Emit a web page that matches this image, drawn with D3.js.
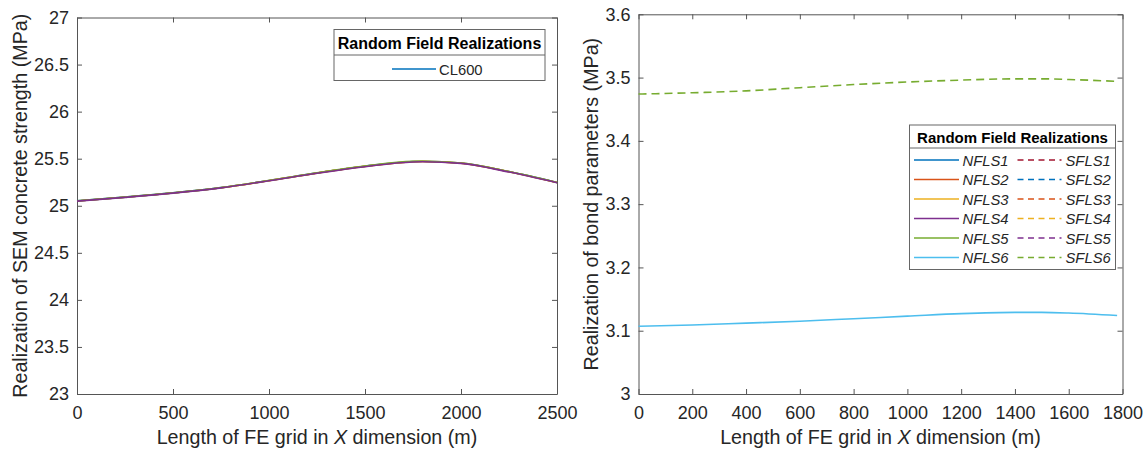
<!DOCTYPE html>
<html>
<head>
<meta charset="utf-8">
<script src="https://cdn.jsdelivr.net/npm/d3@7"></script>
<style>
  body { margin: 0; background: #fff; }
  svg { font-family: "Liberation Sans", Arial, sans-serif; }
  .tick text { fill: #262626; }
</style>
</head>
<body>
<svg id="chart" width="1148" height="450"></svg>
<script>
// Left panel data: SEM concrete strength realizations (CL600)
const leftX = [0, 250, 500, 750, 1000, 1250, 1500, 1750, 1800, 2000, 2250, 2500];
const leftSeries = [
  {color: "#0072BD", values: [25.052, 25.092, 25.137, 25.193, 25.268, 25.349, 25.420, 25.470, 25.472, 25.455, 25.363, 25.248]},
  {color: "#D95319", values: [25.050, 25.090, 25.135, 25.191, 25.266, 25.347, 25.418, 25.468, 25.470, 25.452, 25.361, 25.247]},
  {color: "#EDB120", values: [25.051, 25.091, 25.136, 25.192, 25.267, 25.348, 25.419, 25.469, 25.471, 25.453, 25.362, 25.246]},
  {color: "#77AC30", values: [25.052, 25.092, 25.137, 25.193, 25.268, 25.349, 25.421, 25.471, 25.472, 25.454, 25.363, 25.247]},
  {color: "#7E2F8E", values: [25.049, 25.089, 25.134, 25.190, 25.265, 25.345, 25.415, 25.465, 25.467, 25.450, 25.358, 25.245]}
];
const leftXTicks = [0, 500, 1000, 1500, 2000, 2500];
const leftYTicks = [23, 23.5, 24, 24.5, 25, 25.5, 26, 26.5, 27];
const leftLegend = ["CL600"];

// Right panel data: bond parameter realizations
const rightX = [0, 200, 400, 600, 800, 1000, 1200, 1400, 1500, 1600, 1780];
const nfls6 = [3.107, 3.109, 3.112, 3.115, 3.119, 3.123, 3.127, 3.129, 3.129, 3.128, 3.124];
const sfls6 = [3.474, 3.476, 3.479, 3.484, 3.489, 3.493, 3.496, 3.498, 3.498, 3.497, 3.494];
const rightXTicks = [0, 200, 400, 600, 800, 1000, 1200, 1400, 1600, 1800];
const rightYTicks = [3, 3.1, 3.2, 3.3, 3.4, 3.5, 3.6];
const nflsNames = ["NFLS1", "NFLS2", "NFLS3", "NFLS4", "NFLS5", "NFLS6"];
const sflsNames = ["SFLS1", "SFLS2", "SFLS3", "SFLS4", "SFLS5", "SFLS6"];
const nflsColors = ["#0072BD", "#D95319", "#EDB120", "#7E2F8E", "#77AC30", "#4DBEEE"];
const sflsColors = ["#A2142F", "#0072BD", "#D95319", "#EDB120", "#7E2F8E", "#77AC30"];

const svg = d3.select("#chart");
const axisColor = "#555";

// draw one boxed MATLAB-style axes with ticks on all sides
function drawAxes(box, x, y, xTicks, yTicks, xLabel, yLabel, yLabelOffset) {
  const g = svg.append("g");
  g.append("g")
    .attr("transform", `translate(0,${box.bottom})`)
    .call(d3.axisBottom(x).tickValues(xTicks).tickSizeInner(-5).tickSizeOuter(0).tickPadding(12).tickFormat(d3.format("d")));
  g.append("g")
    .attr("transform", `translate(0,${box.top})`)
    .call(d3.axisTop(x).tickValues(xTicks).tickSizeInner(-5).tickSizeOuter(0).tickFormat(""));
  g.append("g")
    .attr("transform", `translate(${box.left},0)`)
    .call(d3.axisLeft(y).tickValues(yTicks).tickSizeInner(-5).tickSizeOuter(0).tickPadding(8).tickFormat(d3.format("~g")));
  g.append("g")
    .attr("transform", `translate(${box.right},0)`)
    .call(d3.axisRight(y).tickValues(yTicks).tickSizeInner(-5).tickSizeOuter(0).tickFormat(""));
  g.selectAll(".domain").attr("stroke", axisColor);
  g.selectAll(".tick line").attr("stroke", axisColor);
  g.selectAll(".tick text").style("font-size", "18px");

  // x label with italic X
  const xl = g.append("text")
    .attr("x", (box.left + box.right) / 2)
    .attr("y", box.bottom + 50)
    .attr("text-anchor", "middle")
    .style("font-size", "19.7px")
    .attr("fill", "#262626");
  xl.append("tspan").text(xLabel[0]);
  xl.append("tspan").style("font-style", "italic").text("X");
  xl.append("tspan").text(xLabel[1]);

  g.append("text")
    .attr("transform", `translate(${box.left - yLabelOffset},${(box.top + box.bottom) / 2}) rotate(-90)`)
    .attr("text-anchor", "middle")
    .style("font-size", "19.7px")
    .attr("fill", "#262626")
    .text(yLabel);
}

// ---------- left panel ----------
const lb = {left: 77, right: 557, top: 17.5, bottom: 394};
const xL = d3.scaleLinear().domain([0, 2500]).range([lb.left, lb.right]);
const yL = d3.scaleLinear().domain([23, 27]).range([lb.bottom, lb.top]);
drawAxes(lb, xL, yL, leftXTicks, leftYTicks, ["Length of FE grid in ", " dimension (m)"],
  "Realization of SEM concrete strength (MPa)", 50);

const lineL = d3.line().x((d, i) => xL(leftX[i])).y(d => yL(d)).curve(d3.curveMonotoneX);
svg.append("g").selectAll("path")
  .data(leftSeries)
  .join("path")
  .attr("d", d => lineL(d.values))
  .attr("fill", "none")
  .attr("stroke", d => d.color)
  .attr("stroke-width", 1.6);

// left legend
const lgL = svg.append("g").attr("transform", "translate(334,29.5)");
lgL.append("rect").attr("width", 211).attr("height", 51)
  .attr("fill", "#fff").attr("stroke", "#666");
lgL.append("line").attr("x1", 0).attr("x2", 211).attr("y1", 25.5).attr("y2", 25.5).attr("stroke", "#666");
lgL.append("text").attr("x", 105.5).attr("y", 19).attr("text-anchor", "middle")
  .style("font-size", "16px").style("font-weight", "bold").attr("fill", "#000")
  .text("Random Field Realizations");
lgL.append("line").attr("x1", 58).attr("x2", 102).attr("y1", 39.5).attr("y2", 39.5)
  .attr("stroke", leftSeries[0].color).attr("stroke-width", 1.6);
lgL.append("text").attr("x", 105).attr("y", 45).style("font-size", "14.8px").attr("fill", "#262626")
  .text(leftLegend[0]);

// ---------- right panel ----------
const rb = {left: 638.5, right: 1122.5, top: 14.3, bottom: 394};
const xR = d3.scaleLinear().domain([0, 1800]).range([rb.left, rb.right]);
const yR = d3.scaleLinear().domain([3, 3.6]).range([rb.bottom, rb.top]);
drawAxes(rb, xR, yR, rightXTicks, rightYTicks, ["Length of FE grid in ", " dimension (m)"],
  "Realization of bond parameters (MPa)", 41);

const lineR = d3.line().x((d, i) => xR(rightX[i])).y(d => yR(d)).curve(d3.curveMonotoneX);
svg.append("path").attr("d", lineR(sfls6)).attr("fill", "none")
  .attr("stroke", sflsColors[5]).attr("stroke-width", 1.6).attr("stroke-dasharray", "8,5");
svg.append("path").attr("d", lineR(nfls6)).attr("fill", "none")
  .attr("stroke", nflsColors[5]).attr("stroke-width", 1.6);

// right legend
const lgR = svg.append("g").attr("transform", "translate(909.5,125)");
lgR.append("rect").attr("width", 206).attr("height", 144.5)
  .attr("fill", "#fff").attr("stroke", "#666");
lgR.append("line").attr("x1", 0).attr("x2", 206).attr("y1", 23).attr("y2", 23).attr("stroke", "#666");
lgR.append("text").attr("x", 103).attr("y", 17.5).attr("text-anchor", "middle")
  .style("font-size", "15px").style("font-weight", "bold").attr("fill", "#000")
  .text("Random Field Realizations");
nflsNames.forEach((n, i) => {
  const yy = 35 + i * 19.5;
  lgR.append("line").attr("x1", 4.5).attr("x2", 49.5).attr("y1", yy).attr("y2", yy)
    .attr("stroke", nflsColors[i]).attr("stroke-width", 1.6);
  lgR.append("text").attr("x", 53).attr("y", yy + 5.5).style("font-size", "14.8px")
    .style("font-style", "italic").attr("fill", "#262626").text(n);
  lgR.append("line").attr("x1", 108).attr("x2", 152).attr("y1", yy).attr("y2", yy)
    .attr("stroke", sflsColors[i]).attr("stroke-width", 1.6).attr("stroke-dasharray", "6,4.5");
  lgR.append("text").attr("x", 156).attr("y", yy + 5.5).style("font-size", "14.8px")
    .style("font-style", "italic").attr("fill", "#262626").text(sflsNames[i]);
});
</script>
</body>
</html>
